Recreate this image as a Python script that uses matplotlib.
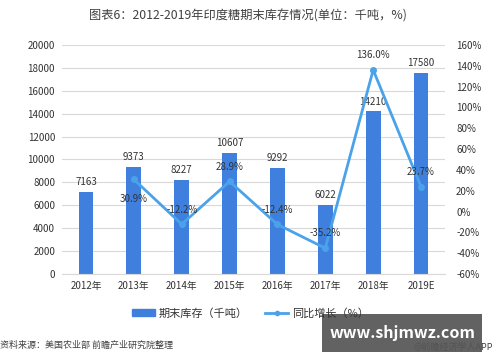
import numpy as np
import matplotlib
matplotlib.use("Agg")
import matplotlib.pyplot as plt

plt.rcParams['font.family'] = ['Noto Sans CJK SC', 'DejaVu Sans']

years = ["2012年", "2013年", "2014年", "2015年", "2016年", "2017年", "2018年", "2019E"]
stock = [7163, 9373, 8227, 10607, 9292, 6022, 14210, 17580]
growth = [np.nan, 30.9, -12.2, 28.9, -12.4, -35.2, 136.0, 23.7]
growth_labels = ["", "30.9%", "-12.2%", "28.9%", "-12.4%", "-35.2%", "136.0%", "23.7%"]

bar_c = "#3F80DE"
line_c = "#4AA3EA"
txt_c = "#333333"

fig = plt.figure(figsize=(5, 3.62), dpi=100)
ax = fig.add_axes([0.124, 0.243, 0.766, 0.633])
x = np.arange(len(years))
ax.bar(x, stock, width=0.31, color=bar_c, zorder=2)
for i, v in enumerate(stock):
    ax.text(i, v + 400, str(v), ha="center", va="bottom", fontsize=7, color=txt_c)
ax.set_ylim(0, 20000)
ax.set_yticks(range(0, 20001, 2000))
ax.set_xlim(-0.5, len(years) - 0.5)
ax.set_xticks(x)
ax.set_xticklabels(years)
ax.grid(axis="y", color="#d9d9d9", linewidth=0.8, zorder=0)
for s in ["top", "right", "left"]:
    ax.spines[s].set_visible(False)
ax.spines["bottom"].set_color("#d9d9d9")
ax.tick_params(length=0, labelsize=7, colors=txt_c, pad=5)

ax2 = ax.twinx()
ax2.plot(x, growth, color=line_c, linewidth=2, marker="o", markersize=4, zorder=3)
ax2.set_ylim(-60, 160)
ax2.set_yticks(range(-60, 161, 20))
ax2.set_yticklabels([f"{v}%" for v in range(-60, 161, 20)])
for s in ["top", "right", "left", "bottom"]:
    ax2.spines[s].set_visible(False)
ax2.tick_params(length=0, labelsize=7, colors=txt_c, pad=8)
for i, lab in enumerate(growth_labels):
    if not lab:
        continue
    off = -14 if i == 1 else 7
    ax2.annotate(lab, (i, growth[i]), xytext=(0, off), textcoords="offset points",
                 ha="center", va="bottom" if off > 0 else "center", fontsize=7, color=txt_c)

fig.text(0.496, 0.955, "图表6：2012-2019年印度糖期末库存情况(单位：千吨，%)",
         ha="center", va="center", fontsize=8.8, color="#404040")

from matplotlib.patches import Rectangle
from matplotlib.lines import Line2D
leg_handles = [Rectangle((0, 0), 1, 1, color=bar_c),
               Line2D([0], [0], color=line_c, linewidth=2, marker="o", markersize=3)]
fig.legend(leg_handles, ["期末库存（千吨）", "同比增长（%）"], loc="center",
           bbox_to_anchor=(0.5, 0.135), ncol=2, frameon=False, fontsize=8,
           handlelength=2.1, handleheight=0.5, handletextpad=0.3, columnspacing=1.6,
           labelcolor=txt_c)

fig.text(0.0, 0.045, "资料来源：美国农业部 前瞻产业研究院整理", ha="left", va="center",
         fontsize=6.5, style="italic", color="#404040")
fig.text(0.985, 0.04, "@前瞻经济学人APP", ha="right", va="center", fontsize=6.5, color="#404040")

fig.patches.append(Rectangle((0.644, 0.028), 0.32, 0.104, transform=fig.transFigure,
                             facecolor="#555555", alpha=0.92, zorder=5))
fig.text(0.804, 0.08, "www.shjmwz.com", ha="center", va="center", fontsize=11.5,
         fontweight="bold", color="white", zorder=6)

fig.savefig("out.png", dpi=100, facecolor="white")
